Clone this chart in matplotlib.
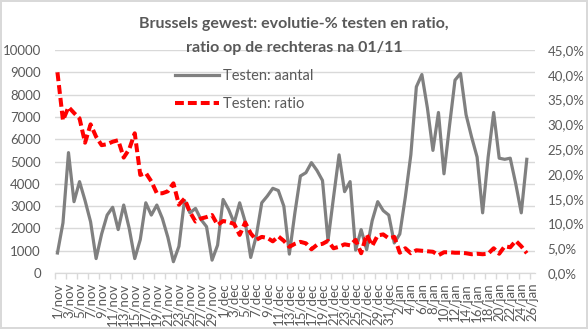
import numpy as np
import pandas as pd
import matplotlib
matplotlib.use("Agg")
import matplotlib.pyplot as plt
from matplotlib.ticker import FuncFormatter

# categorie-as: 1/nov t.e.m. 26/jan
maanden = {11: "nov", 12: "dec", 1: "jan"}
dagen = pd.date_range("2020-11-01", "2021-01-26")
datums = [f"{d.day}/{maanden[d.month]}" for d in dagen]

# aantal testen per dag (linkeras)
aantal = [900, 2250, 5400, 3200, 4100, 3250, 2300, 650, 1750, 2600,
          2950, 1950, 3050, 2000, 650, 1500, 3150, 2600, 3050, 2450,
          1600, 510, 1200, 3250, 2700, 2900, 2400, 2080, 580, 1250,
          3300, 2850, 2250, 3150, 2300, 700, 1650, 3150, 3450, 3800,
          3700, 3000, 850, 2700, 4350, 4500, 4950, 4600, 4150, 1450,
          3400, 5300, 3650, 4100, 1030, 1950, 1050, 2350, 3200, 2800,
          2600, 1350, 1750, 3400, 5300, 8350, 8900, 7400, 5500, 7200,
          4450, 6600, 8650, 8950, 7100, 6100, 5200, 2700, 5200, 7200,
          5150, 5100, 5150, 4000, 2700, 5100]

# positieve ratio in % (rechteras)
ratio = [40.5, 30.8, 33.5, 32.3, 31.2, 26.3, 30.0, 27.5, 25.8, 26.0,
         26.5, 26.8, 23.3, 25.0, 28.2, 19.8, 20.2, 18.5, 16.1, 16.1,
         16.5, 18.1, 13.8, 15.0, 12.3, 10.4, 11.0, 11.3, 11.7, 9.7,
         10.5, 10.3, 9.9, 7.7, 10.2, 8.0, 6.7, 7.3, 7.1, 6.4,
         7.4, 6.5, 5.3, 5.9, 6.3, 6.0, 4.8, 5.7, 5.9, 6.5,
         5.0, 5.3, 5.8, 5.6, 6.7, 4.0, 7.8, 5.5, 7.6, 7.8,
         7.0, 7.3, 4.1, 5.0, 4.0, 4.6, 4.5, 4.4, 4.3, 3.6,
         4.2, 4.2, 4.1, 4.1, 4.0, 3.8, 3.9, 3.8, 3.9, 5.0,
         3.9, 5.4, 5.2, 6.5, 5.4, 4.0]

tekst = "#595959"
raster = "#d9d9d9"
plt.rcParams["font.family"] = ["Lato", "DejaVu Sans"]

fig = plt.figure(figsize=(5.88, 3.29), dpi=100)
fig.patch.set_edgecolor(raster)
fig.patch.set_linewidth(1.5)
ax = fig.add_axes([0.093, 0.170, 0.817, 0.678])
ax2 = ax.twinx()

x = np.arange(len(aantal))
l1, = ax.plot(x, aantal, color="#808080", lw=2.3, solid_joinstyle="round",
              label="Testen: aantal")
l2, = ax2.plot(np.arange(len(ratio)), ratio, color="#ff0000", lw=2.9,
               linestyle=(0, (2.2, 1.0)), label="Testen: ratio")

ax.set_xlim(-0.5, len(datums) - 0.5)
ax.set_ylim(0, 10000)
ax.set_yticks(np.arange(0, 10001, 1000))
ax2.set_ylim(0, 45)
ax2.set_yticks(np.arange(0, 46, 5))
ax2.yaxis.set_major_formatter(FuncFormatter(lambda v, p: f"{v:.1f}%".replace(".", ",")))

ax.set_axisbelow(True)
ax.yaxis.grid(True, color=raster, lw=1)

ax.set_xticks(np.arange(0, len(datums), 2))
ax.set_xticklabels(datums[::2], rotation=90, fontsize=9.5, color=tekst)
ax.set_xticks(np.arange(-0.5, len(datums) + 0.5, 2), minor=True)
ax.tick_params(axis="x", which="major", length=0, pad=7)
ax.tick_params(axis="x", which="minor", length=4, color=raster, width=1)
ax.tick_params(axis="y", length=0, pad=10, labelsize=9.5, labelcolor=tekst)
ax2.tick_params(axis="y", length=0, pad=9, labelsize=9.5, labelcolor=tekst)

for a in (ax, ax2):
    for s in ("top", "left", "right"):
        a.spines[s].set_visible(False)
    a.spines["bottom"].set_color(raster)

fig.text(0.5, 1 - 24 / 329, "Brussels gewest: evolutie-% testen en ratio,",
         ha="center", va="center", fontsize=11.5, fontweight="bold", color=tekst)
fig.text(0.5, 1 - 48 / 329, "ratio op de rechteras na 01/11",
         ha="center", va="center", fontsize=11.5, fontweight="bold", color=tekst)

ax2.legend(handles=[l1, l2], loc="upper left", frameon=False,
           bbox_to_anchor=(175 / 588, 1 - 69 / 329), bbox_transform=fig.transFigure,
           borderpad=0, borderaxespad=0, handlelength=3.0, handletextpad=0.3,
           labelspacing=0.95, fontsize=10.5, labelcolor=tekst)

fig.savefig("out.png", dpi=100, edgecolor=fig.get_edgecolor())
